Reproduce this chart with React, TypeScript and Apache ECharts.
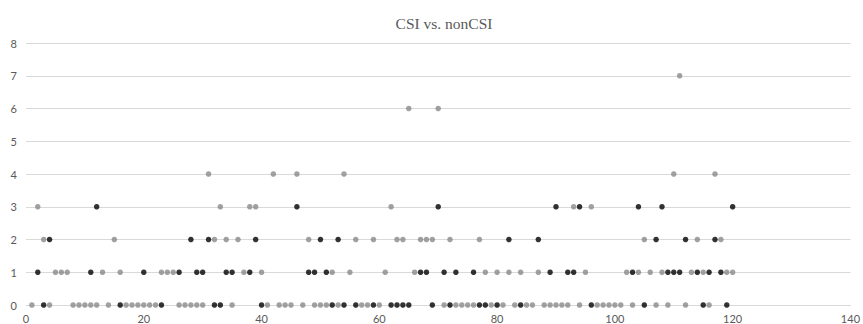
import React, { useEffect, useRef } from "react";
import * as echarts from "echarts";

// nonCSI: one value per x = 1..120 (gray, drawn on top)
const nonCsiValues = [
  0, 3, 2, 0, 1, 1, 1, 0, 0, 0,
  0, 0, 1, 0, 2, 1, 0, 0, 0, 0,
  0, 0, 1, 1, 1, 0, 0, 0, 0, 0,
  4, 2, 3, 2, 0, 2, 1, 3, 3, 1,
  0, 4, 0, 0, 0, 4, 0, 2, 0, 0,
  0, 1, 0, 4, 1, 2, 0, 0, 2, 0,
  1, 3, 2, 2, 6, 1, 2, 2, 2, 6,
  0, 2, 0, 0, 0, 0, 2, 1, 0, 1,
  0, 1, 0, 1, 0, 0, 1, 0, 0, 0,
  0, 0, 3, 0, 1, 3, 0, 0, 0, 0,
  0, 1, 0, 1, 2, 1, 0, 1, 0, 4,
  7, 0, 1, 2, 1, 0, 4, 2, 1, 1,
];

// CSI: visible points (black)
const csiX = [
  2, 3, 4, 11, 12, 16, 20, 23, 26, 28, 29, 30, 31, 32, 33, 34, 35, 38, 39, 40,
  46, 48, 49, 50, 51, 52, 53, 54, 56, 59, 62, 63, 64, 65, 67, 68, 69, 70, 71, 72,
  73, 76, 77, 78, 80, 82, 84, 87, 89, 90, 92, 93, 94, 96, 103, 104, 105, 107, 108, 109,
  110, 111, 112, 114, 115, 116, 117, 118, 119, 120,
];
const csiY = [
  1, 0, 2, 1, 3, 0, 1, 0, 1, 2, 1, 1, 2, 0, 0, 1, 1, 1, 2, 0,
  3, 1, 1, 2, 1, 0, 2, 0, 0, 0, 0, 0, 0, 0, 1, 1, 0, 3, 1, 0,
  1, 1, 0, 0, 0, 2, 0, 2, 1, 3, 1, 1, 3, 0, 1, 3, 0, 2, 3, 1,
  1, 1, 2, 1, 0, 1, 2, 1, 0, 3,
];

const xTicks = [0, 20, 40, 60, 80, 100, 120, 140];
const yTicks = [0, 1, 2, 3, 4, 5, 6, 7, 8];

export default function App() {
  const ref = useRef<HTMLDivElement>(null);
  useEffect(() => {
    if (!ref.current) return;
    const chart = echarts.init(ref.current, null, { renderer: "svg" });
    const labelStyle = { color: "#595959", fontSize: 11, fontFamily: "Lato, 'Liberation Sans', sans-serif" };
    chart.setOption({
      animation: false,
      backgroundColor: "#ffffff",
      title: {
        text: "CSI vs. nonCSI",
        left: 439,
        textAlign: "center",
        top: 10,
        textStyle: { color: "#595959", fontSize: 15.5, fontWeight: "normal", fontFamily: "'Liberation Serif', 'Times New Roman', serif" },
      },
      grid: { left: 26, right: 11, top: 43, bottom: 18, containLabel: false },
      xAxis: {
        type: "value",
        min: xTicks[0],
        max: xTicks[xTicks.length - 1],
        interval: 20,
        axisLine: { show: true, lineStyle: { color: "#d9d9d9" } },
        axisTick: { show: false },
        splitLine: { show: false },
        axisLabel: { ...labelStyle, margin: 8 },
      },
      yAxis: {
        type: "value",
        min: yTicks[0],
        max: yTicks[yTicks.length - 1],
        interval: 1,
        axisLine: { show: false },
        axisTick: { show: false },
        splitLine: { show: true, lineStyle: { color: "#d9d9d9" } },
        axisLabel: { ...labelStyle, margin: 9 },
      },
      series: [
        {
          name: "CSI",
          type: "scatter",
          symbol: "circle",
          symbolSize: 5.5,
          itemStyle: { color: "#000000" },
          data: csiX.map((x, i) => [x, csiY[i]]),
        },
        {
          name: "nonCSI",
          type: "scatter",
          symbol: "circle",
          symbolSize: 5.5,
          itemStyle: { color: "#8a8a8a" },
          data: nonCsiValues.map((v, i) => [i + 1, v]),
        },
      ],
    });
    return () => chart.dispose();
  }, []);
  return (
    <div
      ref={ref}
      style={{ position: "fixed", left: 0, top: 0, width: 863, height: 324 }}
    />
  );
}
